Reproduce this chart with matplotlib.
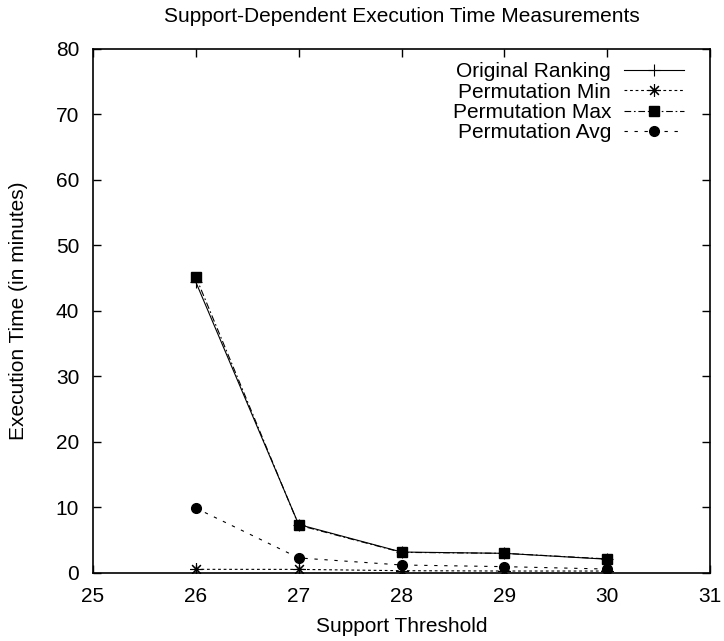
import matplotlib
matplotlib.use("Agg")
import matplotlib.pyplot as plt

plt.rcParams['font.family'] = ['Liberation Sans', 'DejaVu Sans']

# support thresholds and run times (minutes)
support = [26, 27, 28, 29, 30]
orig_ranking = [44.4, 7.4, 3.2, 3.0, 2.1]
perm_min = [0.56, 0.55, 0.35, 0.3, 0.3]
perm_max = [45.2, 7.3, 3.15, 3.0, 2.15]
perm_avg = [9.9, 2.3, 1.22, 0.97, 0.6]

xticks = [25, 26, 27, 28, 29, 30, 31]
yticks = [0, 10, 20, 30, 40, 50, 60, 70, 80]

fig = plt.figure(figsize=(7.24, 6.41), dpi=100)
ax = fig.add_axes([0.1285, 0.1061, 0.8522, 0.8175])

lw = 0.8
ax.plot(support, orig_ranking, color='black', lw=lw, ls='-', marker='+',
        ms=8, mew=0.8, label='Original Ranking')
ax.plot(support, perm_min, color='black', lw=lw, ls=(0, (2.5, 2.5)), marker=(8, 2, 0),
        ms=9, mew=0.8, label='Permutation Min')
ax.plot(support, perm_max, color='black', lw=lw, ls=(0, (6, 2.5, 1.5, 2.5)), marker='s',
        ms=7, label='Permutation Max')
ax.plot(support, perm_avg, color='black', lw=lw, ls=(0, (3, 6)), marker='o',
        ms=7, label='Permutation Avg')

ax.set_xlim(25, 31)
ax.set_ylim(0, 80)
ax.set_xticks(xticks)
ax.set_yticks(yticks)
ax.tick_params(direction='in', top=True, right=True, length=6, width=1,
               labelsize=15)
ax.tick_params(axis='y', pad=10)
ax.tick_params(axis='x', pad=10)
for sp in ax.spines.values():
    sp.set_linewidth(1.2)

ax.set_xlabel('Support Threshold', fontsize=15, labelpad=8)
ax.set_ylabel('Execution Time (in minutes)', fontsize=15, labelpad=20)
fig.text(0.5546, 0.9735, 'Support-Dependent Execution Time Measurements',
         ha='center', va='center', fontsize=15)

ax.legend(loc='upper right', bbox_to_anchor=(0.958, 0.975), frameon=False,
          markerfirst=False, fontsize=15, handlelength=2.9, handletextpad=0.6,
          labelspacing=0.07, borderaxespad=0.0, borderpad=0.0)

fig.savefig('out.png', dpi=100)
